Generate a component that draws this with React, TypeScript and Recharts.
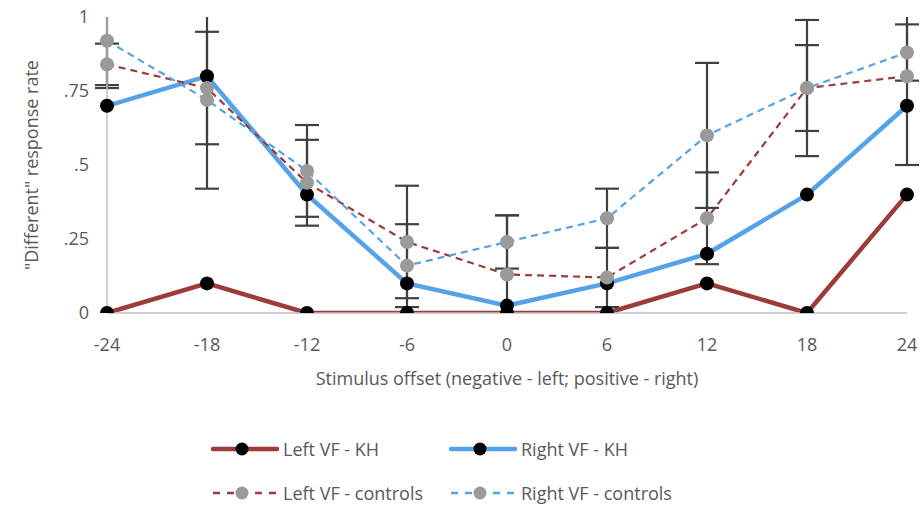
import React from "react";
import { ErrorBar, Line, LineChart, XAxis, YAxis, usePlotArea } from "recharts";

const offsets = ["-24", "-18", "-12", "-6", "0", "6", "12", "18", "24"];
const leftKH = [0, 0.1, 0, 0, 0, 0, 0.1, 0, 0.4];
const rightKH = [0.7, 0.8, 0.4, 0.1, 0.025, 0.1, 0.2, 0.4, 0.7];
const leftControls = [0.84, 0.76, 0.44, 0.24, 0.13, 0.12, 0.32, 0.76, 0.8];
const leftControlsErr = [0.07, 0.19, 0.145, 0.19, 0.2, 0.1, 0.155, 0.145, 0.3];
const rightControls = [0.92, 0.72, 0.48, 0.16, 0.24, 0.32, 0.6, 0.76, 0.88];
const rightControlsErr = [0.16, 0.3, 0.155, 0.14, 0.09, 0.1, 0.245, 0.23, 0.095];
const yTicks = [0, 0.25, 0.5, 0.75, 1];

const FONT = "'Open Sans', sans-serif";
const RED = "#9c3b39";
const BLUE = "#56a2e8";
const GREY = "#9a9a9a";
const TEXT = "#595959";

const data = offsets.map((o, i) => ({
  offset: o,
  leftKH: leftKH[i],
  rightKH: rightKH[i],
  leftControls: leftControls[i],
  leftErr: leftControlsErr[i],
  rightControls: rightControls[i],
  rightErr: rightControlsErr[i],
}));

const legendItems = [
  { name: "Left VF - KH", color: RED, dash: false, dot: "#000" },
  { name: "Right VF - KH", color: BLUE, dash: false, dot: "#000" },
  { name: "Left VF - controls", color: RED, dash: true, dot: GREY },
  { name: "Right VF - controls", color: BLUE, dash: true, dot: GREY },
];

function fmtY(v: number) {
  if (v === 0) return "0";
  if (v === 1) return "1";
  return String(v).replace(/^0/, "");
}

// error bars get cut at the plot area edge, like Excel does
function PlotClip() {
  const area = usePlotArea();
  if (!area) return null;
  return (
    <defs>
      <clipPath id="plot-clip">
        <rect x={area.x - 20} y={area.y} width={area.width + 40} height={area.height} />
      </clipPath>
    </defs>
  );
}

function LegendEntry({ item }: { item: (typeof legendItems)[number] }) {
  return (
    <div style={{ display: "flex", alignItems: "center", width: 238 }}>
      <svg width={72} height={16} style={{ flex: "none" }}>
        <line
          x1={2}
          y1={8}
          x2={66}
          y2={8}
          stroke={item.color}
          strokeWidth={item.dash ? 2.5 : 4.5}
          strokeDasharray={item.dash ? "7 7" : undefined}
          strokeLinecap={item.dash ? "butt" : "round"}
        />
        <circle cx={31} cy={8} r={6.5} fill={item.dot} />
      </svg>
      <span style={{ fontSize: 18, lineHeight: "22px", color: TEXT }}>{item.name}</span>
    </div>
  );
}

export default function App() {
  return (
    <div style={{ position: "absolute", left: 0, top: 0, width: 920, height: 506, background: "#fff", fontFamily: FONT }}>
      <LineChart width={920} height={400} data={data} margin={{ top: 17, right: 13, left: 0, bottom: 0 }}>
        <PlotClip />
        <XAxis
          dataKey="offset"
          tickLine={false}
          tickSize={0}
          tickMargin={25}
          height={87}
          axisLine={{ stroke: "#bfbfbf", strokeWidth: 1.5 }}
          tick={{ fill: TEXT, fontSize: 18, fontFamily: FONT }}
          label={{
            content: () => (
              <text x={507} y={385} textAnchor="middle" fill={TEXT} fontSize={18} fontFamily={FONT}>
                Stimulus offset (negative - left; positive - right)
              </text>
            ),
          }}
        />
        <YAxis
          domain={[0, 1]}
          ticks={yTicks}
          width={107}
          tickLine={false}
          tickSize={0}
          tickMargin={18}
          allowDataOverflow
          tickFormatter={fmtY}
          axisLine={{ stroke: "#bfbfbf", strokeWidth: 1.5 }}
          tick={{ fill: TEXT, fontSize: 18, fontFamily: FONT }}
          label={{
            content: () => (
              <text
                x={31}
                y={165}
                transform="rotate(-90 31 165)"
                textAnchor="middle"
                dominantBaseline="central"
                fill={TEXT}
                fontSize={18}
                fontFamily={FONT}
              >
                "Different" response rate
              </text>
            ),
          }}
        />
        <Line
          dataKey="leftKH"
          stroke={RED}
          strokeWidth={4.5}
          dot={{ r: 7, fill: "#000", stroke: "#000", strokeWidth: 0 }}
          isAnimationActive={false}
        />
        <Line
          dataKey="rightKH"
          stroke={BLUE}
          strokeWidth={4.5}
          dot={{ r: 7, fill: "#000", stroke: "#000", strokeWidth: 0 }}
          isAnimationActive={false}
        />
        <Line
          dataKey="leftControls"
          stroke={RED}
          strokeWidth={2.2}
          strokeDasharray="7 5"
          dot={{ r: 7, fill: GREY, stroke: GREY, strokeWidth: 0, strokeDasharray: "" }}
          isAnimationActive={false}
        >
          <ErrorBar dataKey="leftErr" width={12} stroke="#404040" strokeWidth={2.2} direction="y" clipPath="url(#plot-clip)" />
        </Line>
        <Line
          dataKey="rightControls"
          stroke={BLUE}
          strokeWidth={2.2}
          strokeDasharray="7 5"
          dot={{ r: 7, fill: GREY, stroke: GREY, strokeWidth: 0, strokeDasharray: "" }}
          isAnimationActive={false}
        >
          <ErrorBar dataKey="rightErr" width={12} stroke="#404040" strokeWidth={2.2} direction="y" clipPath="url(#plot-clip)" />
        </Line>
      </LineChart>
      <div style={{ position: "absolute", left: 211, top: 438, display: "flex", flexWrap: "wrap", width: 480, rowGap: 22 }}>
        {legendItems.map((item) => (
          <LegendEntry key={item.name} item={item} />
        ))}
      </div>
    </div>
  );
}
